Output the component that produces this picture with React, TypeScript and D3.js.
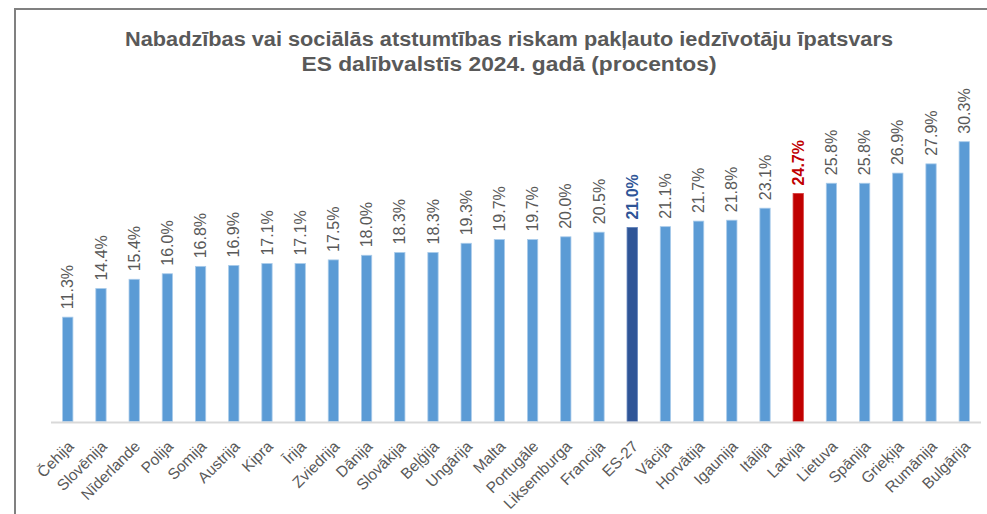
import { useRef, useEffect } from 'react';
import * as d3 from 'd3';

const TITLE_LINES = [
  'Nabadzības vai sociālās atstumtības riskam pakļauto iedzīvotāju īpatsvars',
  'ES dalībvalstīs 2024. gadā (procentos)',
];
const TITLE_WIDTHS = [768, 415];

const countries = [
  'Čehija', 'Slovēnija', 'Nīderlande', 'Polija', 'Somija', 'Austrija', 'Kipra',
  'Īrija', 'Zviedrija', 'Dānija', 'Slovākija', 'Beļģija', 'Ungārija', 'Malta',
  'Portugāle', 'Liksemburga', 'Francija', 'ES-27', 'Vācija', 'Horvātija',
  'Igaunija', 'Itālija', 'Latvija', 'Lietuva', 'Spānija', 'Grieķija',
  'Rumānija', 'Bulgārija',
];

const values = [
  11.3, 14.4, 15.4, 16.0, 16.8, 16.9, 17.1, 17.1, 17.5, 18.0, 18.3, 18.3,
  19.3, 19.7, 19.7, 20.0, 20.5, 21.0, 21.1, 21.7, 21.8, 23.1, 24.7, 25.8,
  25.8, 26.9, 27.9, 30.3,
];

const EU = 'ES-27';
const LV = 'Latvija';

const barColor = (c: string) => (c === EU ? '#2F5597' : c === LV ? '#C00000' : '#5B9BD5');
const barEdge = (c: string) => (c === EU ? '#5B7DB8' : c === LV ? '#D84040' : '#A9CBEA');
const labelColor = (c: string) => (c === EU ? '#2F5597' : c === LV ? '#C00000' : '#595959');

const FONT = '"Liberation Sans", Arial, sans-serif';

export default function App() {
  const svgRef = useRef<SVGSVGElement>(null);

  useEffect(() => {
    const svg = d3.select(svgRef.current);
    svg.selectAll('*').remove();

    const W = 987, H = 514;
    svg.attr('width', W).attr('height', H);

    svg.append('rect').attr('width', W).attr('height', H).attr('fill', '#fff');

    // frame (only top and left edges visible)
    svg.append('rect')
      .attr('x', 15).attr('y', 9)
      .attr('width', W + 20).attr('height', H + 20)
      .attr('fill', 'none').attr('stroke', '#808080').attr('stroke-width', 2);

    const data = countries.map((c, i) => ({ country: c, value: values[i] }));

    const x = d3.scaleBand<string>()
      .domain(countries)
      .range([51, 981])
      .paddingInner(0.69)
      .paddingOuter(0.35);

    const y = d3.scaleLinear().domain([0, 35]).range([421.5, 98.3]);

    // title
    svg.append('g').selectAll('text')
      .data(TITLE_LINES)
      .enter().append('text')
      .attr('x', 509)
      .attr('y', (_d, i) => 46 + i * 25)
      .attr('text-anchor', 'middle')
      .attr('textLength', (_d, i) => TITLE_WIDTHS[i])
      .attr('lengthAdjust', 'spacingAndGlyphs')
      .style('font-family', FONT)
      .style('font-size', '20px')
      .style('font-weight', 'bold')
      .attr('fill', '#595959')
      .text(d => d);

    // bars
    svg.append('g').selectAll('rect')
      .data(data)
      .enter().append('rect')
      .attr('x', d => x(d.country)!)
      .attr('y', d => y(d.value))
      .attr('width', x.bandwidth())
      .attr('height', d => y(0) - y(d.value))
      .attr('fill', d => barColor(d.country))
      .attr('stroke', d => barEdge(d.country))
      .attr('stroke-width', 0.8);

    // baseline
    svg.append('line')
      .attr('x1', 51).attr('x2', 981)
      .attr('y1', y(0) + 1).attr('y2', y(0) + 1)
      .attr('stroke', '#D9D9D9').attr('stroke-width', 2);

    // value labels
    svg.append('g').selectAll('text')
      .data(data)
      .enter().append('text')
      .attr('transform', d => `translate(${x(d.country)! + x.bandwidth() / 2},${y(d.value) - 8}) rotate(-90)`)
      .attr('dy', '0.35em')
      .style('font-family', FONT)
      .style('font-size', '16px')
      .style('font-weight', d => (d.country === EU || d.country === LV ? 'bold' : 'normal'))
      .attr('fill', d => labelColor(d.country))
      .text(d => `${d.value.toFixed(1)}%`);

    // category labels
    svg.append('g').selectAll('text')
      .data(data)
      .enter().append('text')
      .attr('transform', d => `translate(${x(d.country)! + x.bandwidth() / 2 + 3},${y(0) + 22}) rotate(-45)`)
      .attr('text-anchor', 'end')
      .attr('dy', '0.35em')
      .style('font-family', FONT)
      .style('font-size', '15.5px')
      .attr('fill', '#595959')
      .text(d => d.country);
  }, []);

  return (
    <svg ref={svgRef} style={{ position: 'absolute', left: 0, top: 0, display: 'block' }}></svg>
  );
}
